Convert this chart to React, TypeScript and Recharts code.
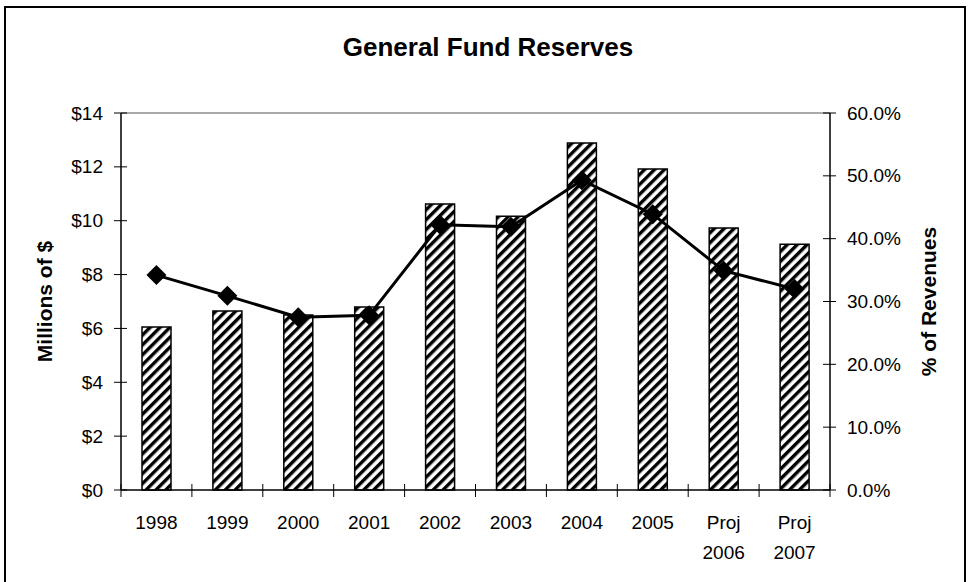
import { ComposedChart, Bar, Line, XAxis, YAxis, ReferenceLine } from 'recharts';

const years = ['1998', '1999', '2000', '2001', '2002', '2003', '2004', '2005', 'Proj 2006', 'Proj 2007'];
const reserves = [6.05, 6.65, 6.5, 6.8, 10.62, 10.17, 12.89, 11.92, 9.73, 9.13];
const pctRevenues = [34.2, 30.9, 27.5, 27.8, 42.2, 41.9, 49.3, 43.9, 34.9, 32.0];
const dollarTicks = [0, 2, 4, 6, 8, 10, 12, 14];
const pctTicks = [0, 10, 20, 30, 40, 50, 60];

const data = years.map((year, i) => ({
  year,
  reserves: reserves[i],
  pct: pctRevenues[i],
}));

const W = 969;
const H = 582;
const LEFT_W = 121;
const RIGHT_W = 139;
const TOP = 113;
const X_AXIS_H = 92;
const PLOT_L = LEFT_W;
const PLOT_R = W - RIGHT_W;
const BAND = (PLOT_R - PLOT_L) / years.length;
const FONT = '"Liberation Sans", Arial, sans-serif';

const LeftTick = (props: any) => {
  const { y, payload } = props;
  return (
    <g>
      <line x1={PLOT_L - 7} x2={PLOT_L + 6} y1={y} y2={y} stroke="#000" strokeWidth={1} />
      <text x={103} y={y} textAnchor="end" dominantBaseline="central" fontSize={19} fontFamily={FONT} fill="#000">
        ${payload.value}
      </text>
    </g>
  );
};

const RightTick = (props: any) => {
  const { y, payload } = props;
  return (
    <g>
      <line x1={PLOT_R - 7} x2={PLOT_R + 6} y1={y} y2={y} stroke="#000" strokeWidth={1} />
      <text x={847} y={y} textAnchor="start" dominantBaseline="central" fontSize={19} fontFamily={FONT} fill="#000">
        {payload.value.toFixed(1)}%
      </text>
    </g>
  );
};

const CategoryTick = (props: any) => {
  const { x, payload, index } = props;
  const axisY = H - X_AXIS_H;
  const lines = String(payload.value).split(' ');
  const left = x - BAND / 2;
  return (
    <g>
      <line x1={left} x2={left} y1={axisY - 6} y2={axisY + 7} stroke="#000" strokeWidth={1} />
      {index === years.length - 1 && (
        <line x1={left + BAND} x2={left + BAND} y1={axisY - 6} y2={axisY + 7} stroke="#000" strokeWidth={1} />
      )}
      {lines.map((ln, i) => (
        <text
          key={i}
          x={x}
          y={axisY + 32 + i * 30}
          textAnchor="middle"
          dominantBaseline="central"
          fontSize={19}
          fontFamily={FONT}
          fill="#000"
        >
          {ln}
        </text>
      ))}
    </g>
  );
};

const Diamond = (props: any) => {
  const { cx, cy } = props;
  if (cx == null || cy == null) return null;
  const r = 10;
  return <polygon points={`${cx},${cy - r} ${cx + r},${cy} ${cx},${cy + r} ${cx - r},${cy}`} fill="#000" />;
};

const axisTitle = (text: string, cx: number) => (p: any) => {
  const vb = p.viewBox;
  const cy = vb.y + vb.height / 2;
  return (
    <text
      x={cx}
      y={cy}
      transform={`rotate(-90 ${cx} ${cy})`}
      textAnchor="middle"
      dominantBaseline="central"
      fontSize={21}
      fontWeight="bold"
      fontFamily={FONT}
      fill="#000"
    >
      {text}
    </text>
  );
};

export default function App() {
  return (
    <div style={{ position: 'absolute', left: 0, top: 0, width: W, height: H, overflow: 'hidden', background: '#fff' }}>
      <div
        style={{
          position: 'absolute',
          left: 4,
          top: 6,
          width: 958,
          height: 620,
          border: '2px solid #000',
        }}
      />
      <div
        style={{
          position: 'absolute',
          left: 188,
          width: 600,
          top: 31,
          lineHeight: '32px',
          textAlign: 'center',
          fontFamily: FONT,
          fontWeight: 'bold',
          fontSize: 26,
          color: '#000',
        }}
      >
        General Fund Reserves
      </div>
      <div style={{ position: 'absolute', left: 0, top: 0 }}>
        <ComposedChart
          width={W}
          height={H}
          data={data}
          margin={{ top: TOP, right: 0, bottom: 0, left: 0 }}
          barSize={29}
        >
          <defs>
            <pattern id="hatch" patternUnits="userSpaceOnUse" width={7} height={7} patternTransform="rotate(45)">
              <rect x={0} y={0} width={7} height={7} fill="#fff" />
              <rect x={0} y={0} width={3.4} height={7} fill="#000" />
            </pattern>
          </defs>
          <XAxis
            dataKey="year"
            height={X_AXIS_H}
            tickLine={false}
            axisLine={{ stroke: '#000', strokeWidth: 1.5 }}
            tick={<CategoryTick />}
            interval={0}
          />
          <YAxis
            yAxisId="left"
            orientation="left"
            width={LEFT_W}
            domain={[0, 14]}
            ticks={dollarTicks}
            tickLine={false}
            axisLine={{ stroke: '#000', strokeWidth: 1.5 }}
            tick={<LeftTick />}
            label={axisTitle('Millions of $', 44)}
          />
          <YAxis
            yAxisId="right"
            orientation="right"
            width={RIGHT_W}
            domain={[0, 60]}
            ticks={pctTicks}
            tickLine={false}
            axisLine={{ stroke: '#000', strokeWidth: 1.5 }}
            tick={<RightTick />}
            label={axisTitle('% of Revenues', 928)}
          />
          <ReferenceLine yAxisId="left" y={14} stroke="#8c8c8c" strokeWidth={1.5} />
          <Bar
            yAxisId="left"
            dataKey="reserves"
            fill="url(#hatch)"
            stroke="#000"
            strokeWidth={1.5}
            isAnimationActive={false}
          />
          <Line
            yAxisId="right"
            dataKey="pct"
            type="linear"
            stroke="#000"
            strokeWidth={3}
            dot={<Diamond />}
            activeDot={false}
            isAnimationActive={false}
          />
        </ComposedChart>
      </div>
    </div>
  );
}
